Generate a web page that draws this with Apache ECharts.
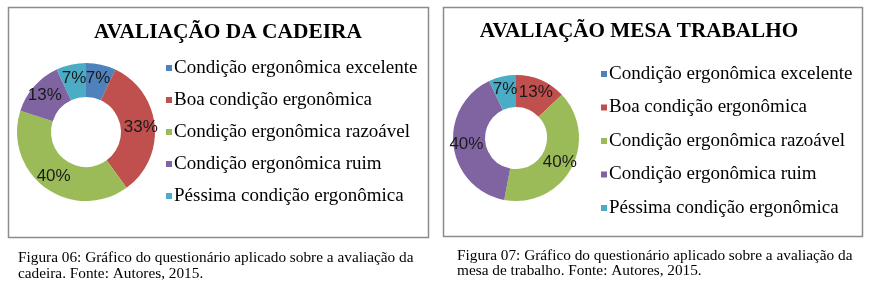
<!DOCTYPE html>
<html>
<head>
<meta charset="utf-8">
<script src="https://cdn.jsdelivr.net/npm/echarts@6/dist/echarts.min.js"></script>
<style>
  html, body { margin: 0; padding: 0; background: #ffffff; }
  #chart { width: 871px; height: 293px; }
</style>
</head>
<body>
<div id="chart"></div>
<script>
// Response categories shared by both doughnuts
const categories = [
  'Condição ergonômica excelente',
  'Boa condição ergonômica',
  'Condição ergonômica razoável',
  'Condição ergonômica ruim',
  'Péssima condição ergonômica'
];
// Share of answers (%) for each category
const chairShare = [7, 33, 40, 13, 7];
const deskShare = [0, 13, 40, 40, 7];

const chartTitles = ['AVALIAÇÃO DA CADEIRA', 'AVALIAÇÃO MESA TRABALHO'];
const captionLines = [
  ['Figura 06: Gráfico do questionário aplicado sobre a avaliação da', 'cadeira. Fonte: Autores, 2015.'],
  ['Figura 07: Gráfico do questionário aplicado sobre a avaliação da', 'mesa de trabalho. Fonte: Autores, 2015.']
];

const palette = ['#4F81BD', '#C0504D', '#9BBB59', '#8064A2', '#4BACC6'];
const serif = '"Liberation Serif", "Times New Roman", serif';
const sans = '"Liberation Sans", Arial, sans-serif';

function toData(values) {
  return categories.map((name, i) => ({ name: name, value: values[i] }));
}

function donut(values, center, radius) {
  return {
    type: 'pie',
    center: center,
    radius: radius,
    startAngle: 90,
    clockwise: true,
    avoidLabelOverlap: false,
    silent: true,
    itemStyle: { borderWidth: 0 },
    label: {
      show: true,
      position: 'inside',
      fontFamily: sans,
      fontSize: 17,
      color: '#1a1a1a',
      formatter: p => (p.value > 0 ? p.value + '%' : '')
    },
    labelLayout: { hideOverlap: false },
    labelLine: { show: false },
    emphasis: { disabled: true },
    data: toData(values)
  };
}

function legendAt(left, top, gap) {
  return {
    orient: 'vertical',
    left: left,
    top: top,
    padding: 0,
    icon: 'rect',
    itemWidth: 6,
    itemHeight: 6,
    itemGap: gap,
    selectedMode: false,
    textStyle: { fontFamily: serif, fontSize: 19, color: '#000', lineHeight: 20, padding: [0, 0, 0, -3] },
    data: categories
  };
}

const frames = [
  { x: 8.5, y: 7.5, w: 420, h: 230 },
  { x: 443.5, y: 7.5, w: 419, h: 229 }
];

const graphics = [];
frames.forEach(f => {
  graphics.push({
    type: 'rect',
    shape: { x: f.x, y: f.y, width: f.w, height: f.h },
    style: { fill: '#ffffff', stroke: '#8c8c8c', lineWidth: 1.5 },
    z: -10
  });
});
const captionFont = '15.3px ' + serif;
graphics.push(
  { type: 'text', x: 228, y: 32, style: { text: chartTitles[0], font: 'bold 21.4px ' + serif, fill: '#000', align: 'center', verticalAlign: 'middle' } },
  { type: 'text', x: 639, y: 32, style: { text: chartTitles[1], font: 'bold 21.2px ' + serif, fill: '#000', align: 'center', verticalAlign: 'middle' } },
  { type: 'text', x: 18, y: 258, style: { text: captionLines[0][0], font: captionFont, fill: '#000', verticalAlign: 'middle' } },
  { type: 'text', x: 18, y: 274, style: { text: captionLines[0][1], font: captionFont, fill: '#000', verticalAlign: 'middle' } },
  { type: 'text', x: 457, y: 256, style: { text: captionLines[1][0], font: captionFont, fill: '#000', verticalAlign: 'middle' } },
  { type: 'text', x: 457, y: 271, style: { text: captionLines[1][1], font: captionFont, fill: '#000', verticalAlign: 'middle' } }
);

const chart = echarts.init(document.getElementById('chart'), null, { renderer: 'canvas' });
chart.setOption({
  animation: false,
  color: palette,
  backgroundColor: '#ffffff',
  graphic: graphics,
  legend: [legendAt(166, 58, 12), legendAt(601, 64, 13.5)],
  series: [
    donut(chairShare, [86, 132], [35, 69]),
    donut(deskShare, [516, 138], [31, 63])
  ]
});
</script>
</body>
</html>
